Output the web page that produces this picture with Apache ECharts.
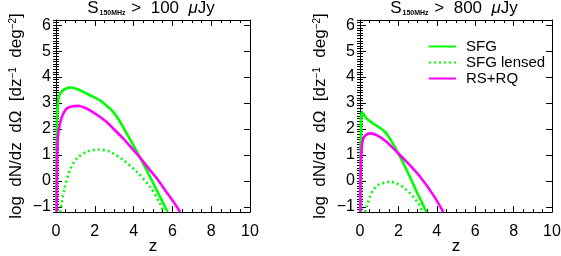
<!DOCTYPE html>
<html><head><meta charset="utf-8">
<script src="https://cdn.jsdelivr.net/npm/echarts@6/dist/echarts.min.js"></script>
<style>html,body{margin:0;padding:0;background:#fff}#c{width:561px;height:256px}</style>
</head><body><div id="c"></div>
<script>
// ---- data ----
const yTickValues = [-1, 0, 1, 2, 3, 4, 5, 6];
const seriesNames = ['SFG', 'SFG lensed', 'RS+RQ'];
const titleLeft = '{s|S}{sub|150MHz}{s| >  100  }{mu|μ}{s|Jy}';
const titleRight = '{s|S}{sub|150MHz}{s| >  800  }{mu|μ}{s|Jy}';

// left panel: S > 100 uJy
const zL_sfg = [0.02, 0.04, 0.08, 0.15, 0.3, 0.5, 0.72, 1.0, 1.41, 1.8, 2.27, 2.6, 2.95, 3.3, 3.64, 4.0, 4.33, 4.7, 5.02, 5.4, 5.75];
const vL_sfg = [-1.2, 2.0, 2.9, 3.25, 3.45, 3.55, 3.6, 3.56, 3.43, 3.28, 3.1, 2.9, 2.66, 2.28, 1.83, 1.36, 0.9, 0.37, -0.1, -0.67, -1.2];
const zL_len = [0.21, 0.29, 0.46, 0.72, 1.07, 1.58, 2.18, 2.78, 3.47, 4.16, 4.85, 5.36, 5.53];
const vL_len = [-1.2, -0.87, -0.23, 0.42, 0.86, 1.12, 1.21, 1.12, 0.8, 0.35, -0.23, -0.87, -1.2];
const zL_rs = [0.04, 0.06, 0.1, 0.2, 0.35, 0.55, 0.8, 1.15, 1.45, 1.75, 2.2, 2.61, 3.0, 3.47, 3.9, 4.33, 4.75, 5.19, 5.6, 6.05, 6.4];
const vL_rs = [-1.2, 1.0, 1.7, 2.2, 2.55, 2.79, 2.87, 2.89, 2.83, 2.72, 2.5, 2.27, 1.98, 1.63, 1.27, 0.9, 0.5, 0.1, -0.33, -0.8, -1.2];

// right panel: S > 800 uJy
const zR_sfg = [0.02, 0.04, 0.09, 0.35, 0.69, 1.0, 1.21, 1.4, 1.56, 1.8, 2.0, 2.43, 2.95, 3.2, 3.46];
const vR_sfg = [-1.2, 1.5, 2.66, 2.4, 2.21, 2.06, 1.95, 1.8, 1.63, 1.32, 1.06, 0.42, -0.42, -0.8, -1.2];
const zR_len = [0.26, 0.35, 0.52, 0.69, 0.95, 1.3, 1.56, 1.91, 2.34, 2.69, 3.04, 3.25];
const vR_len = [-1.2, -1.0, -0.61, -0.35, -0.16, -0.07, -0.03, -0.1, -0.29, -0.55, -0.87, -1.2];
const zR_rs = [0.02, 0.04, 0.1, 0.17, 0.3, 0.52, 0.87, 1.39, 1.91, 2.43, 3.13, 3.82, 4.34];
const vR_rs = [-1.2, 0.6, 1.35, 1.63, 1.76, 1.83, 1.76, 1.5, 1.12, 0.73, 0.16, -0.55, -1.2];

const pairs = (xs, ys) => xs.map((x, i) => [x, ys[i]]);
const FONT = 'Liberation Sans';
const GREEN = '#00ff00', MAGENTA = '#ff00ff';

function xAx(grid, pos, main) {
  return {
    type: 'value', gridIndex: grid, position: pos, min: 0, max: 10, interval: 2,
    axisLine: { show: true, onZero: false, lineStyle: { color: '#000', width: 1 } },
    axisTick: { show: true, inside: true, length: 6, lineStyle: { color: '#000' } },
    minorTick: { show: true, splitNumber: 4, length: 3, lineStyle: { color: '#000' } },
    axisLabel: { show: main, margin: 12, fontSize: 16, color: '#000', fontFamily: FONT },
    splitLine: { show: false },
    name: main ? 'z' : '', nameLocation: 'middle', nameGap: 26, nameMoveOverlap: false,
    nameTextStyle: { fontSize: 17, color: '#000', fontFamily: FONT }
  };
}
function yMajor(grid, pos, main) {
  return {
    type: 'value', gridIndex: grid, position: pos, min: -1.2, max: 6.2,
    axisLine: { show: true, onZero: false, lineStyle: { color: '#000', width: 1 } },
    axisTick: { show: true, inside: true, length: 6, customValues: yTickValues, lineStyle: { color: '#000' } },
    axisLabel: { show: main, customValues: yTickValues, margin: 5, fontSize: 16, color: '#000', fontFamily: FONT,
      formatter: v => (v < 0 ? '\u2212' + Math.abs(v) : String(v)) },
    splitLine: { show: false },
    name: main ? 'log  dN/dz  dΩ  [dz{sup|\u22121}  deg{sup|\u22122}]' : '',
    nameLocation: 'middle', nameRotate: 90, nameGap: 31, nameMoveOverlap: false,
    nameTextStyle: { fontSize: 17, color: '#000', fontFamily: FONT,
      rich: { sup: { fontSize: 10, color: '#000', fontFamily: FONT, verticalAlign: 'top', padding: [0, 0, 6, 0] } } }
  };
}
function yMinor(grid, pos) {
  return {
    type: 'value', gridIndex: grid, position: pos, min: -1.2, max: 6.2, interval: 0.1,
    axisLine: { show: false }, axisLabel: { show: false }, splitLine: { show: false },
    axisTick: { show: true, inside: true, length: 3, lineStyle: { color: '#000' } }
  };
}
function line(name, data, xi, yi, color, dotted) {
  return {
    type: 'line', name: name, data: data, xAxisIndex: xi, yAxisIndex: yi,
    symbol: 'none', smooth: 0.3, clip: true,
    lineStyle: { color: color, width: 2.6, type: dotted ? [2, 3] : 'solid', cap: 'butt' },
    itemStyle: { color: color }
  };
}
const titleRich = {
  s: { fontSize: 17, fontWeight: 'normal', color: '#000', fontFamily: FONT },
  mu: { fontSize: 17, fontWeight: 'normal', color: '#000', fontFamily: FONT, fontStyle: 'italic' },
  sub: { fontSize: 7, fontWeight: 'bold', color: '#000', fontFamily: FONT, verticalAlign: 'bottom', padding: [0, 1, 0, 1] }
};

const chart = echarts.init(document.getElementById('c'), null, { renderer: 'canvas' });
chart.setOption({
  animation: false,
  backgroundColor: '#fff',
  title: [
    { text: titleLeft, left: 151, top: 0, textAlign: 'center', padding: 0, textStyle: { fontWeight: 'normal', rich: titleRich } },
    { text: titleRight, left: 454, top: 0, textAlign: 'center', padding: 0, textStyle: { fontWeight: 'normal', rich: titleRich } }
  ],
  grid: [
    { left: 56, top: 20, width: 194, height: 192, outerBoundsMode: 'none', containLabel: false },
    { left: 360, top: 20, width: 192, height: 192, outerBoundsMode: 'none', containLabel: false }
  ],
  legend: {
    data: seriesNames, orient: 'vertical', left: 428, top: 39,
    itemWidth: 27, itemHeight: 12, itemGap: 1, padding: 0,
    itemStyle: { color: 'rgba(0,0,0,0)', borderWidth: 0 },
    textStyle: { fontSize: 15, color: '#000', fontFamily: FONT, lineHeight: 13, padding: [0, 0, 0, 5] }
  },
  xAxis: [xAx(0, 'bottom', true), xAx(0, 'top', false), xAx(1, 'bottom', true), xAx(1, 'top', false)],
  yAxis: [yMajor(0, 'left', true), yMinor(0, 'left'), yMajor(0, 'right', false), yMinor(0, 'right'),
          yMajor(1, 'left', true), yMinor(1, 'left'), yMajor(1, 'right', false), yMinor(1, 'right')],
  series: [
    line('SFG', pairs(zL_sfg, vL_sfg), 0, 0, GREEN, false),
    line('SFG lensed', pairs(zL_len, vL_len), 0, 0, GREEN, true),
    line('RS+RQ', pairs(zL_rs, vL_rs), 0, 0, MAGENTA, false),
    line('SFG', pairs(zR_sfg, vR_sfg), 2, 4, GREEN, false),
    line('SFG lensed', pairs(zR_len, vR_len), 2, 4, GREEN, true),
    line('RS+RQ', pairs(zR_rs, vR_rs), 2, 4, MAGENTA, false)
  ]
});
</script></body></html>
